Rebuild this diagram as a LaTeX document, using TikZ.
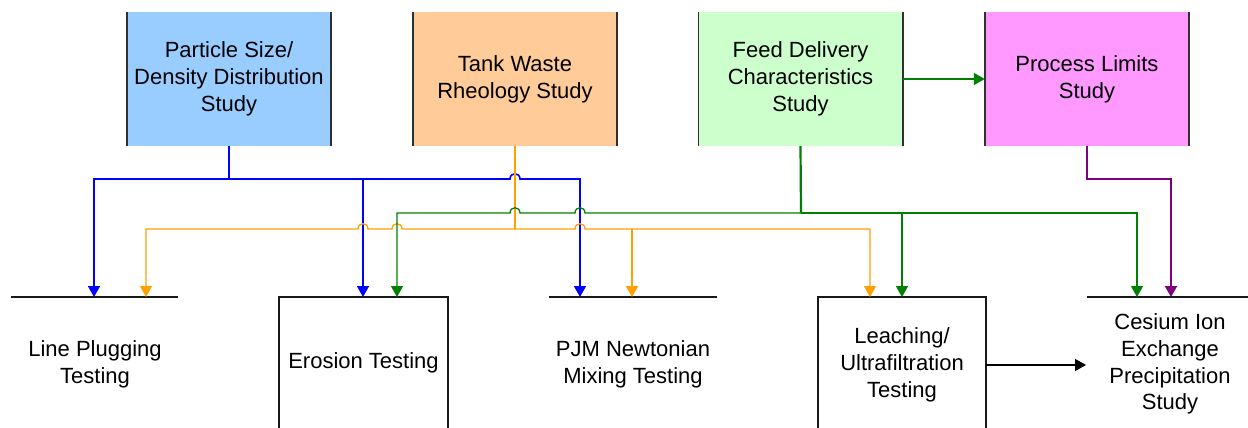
\documentclass[tikz,border=0pt]{standalone}
\usepackage{fontspec}
\setmainfont{Liberation Sans}
\usetikzlibrary{arrows.meta}

\definecolor{fillblue}{HTML}{99CCFF}
\definecolor{fillorange}{HTML}{FFCC99}
\definecolor{fillgreen}{HTML}{CCFFCC}
\definecolor{fillpink}{HTML}{FF99FF}
\definecolor{lnblue}{HTML}{0000FF}
\definecolor{lnorange}{HTML}{FFA000}
\definecolor{lngreen}{HTML}{008000}
\definecolor{lnpurple}{HTML}{800080}
\definecolor{edgegray}{HTML}{303030}

% small line hops where one connector crosses another
\newcommand\hopR[2]{-- (#1-5,#2) .. controls (#1-5,#2-7) and (#1+5,#2-7) .. (#1+5,#2)}
\newcommand\hopL[2]{-- (#1+5,#2) .. controls (#1+5,#2-7) and (#1-5,#2-7) .. (#1-5,#2)}

\tikzset{
  lbl/.style={align=center, inner sep=0pt, font=\fontsize{22}{26.8}\selectfont},
  topbox/.style={lbl, minimum width=204pt, minimum height=134pt},
  side/.style={draw=edgegray, line width=1.6pt},
  outline/.style={draw=black!90, line width=1.5pt},
  tip/.style={-{Triangle[width=12pt,length=11pt]}},
  bluewire/.style={draw=lnblue, line width=1.6pt},
  orangewire/.style={draw=lnorange, line width=1.3pt},
  orangethick/.style={draw=lnorange, line width=2.2pt},
  greenwire/.style={draw=lngreen, line width=1.3pt},
  greenthick/.style={draw=lngreen, line width=2.2pt},
  purplewire/.style={draw=lnpurple, line width=2pt},
  blackwire/.style={draw=black, line width=1.5pt},
}

\begin{document}
\begin{tikzpicture}[x=1pt, y=-1pt]
\useasboundingbox (0,0) rectangle (1248,428);
\clip (0,0) rectangle (1248,428);
\fill[white] (0,0) rectangle (1248,428);

% ---- study boxes along the top
\node[topbox, fill=fillblue]   (psd)  at (229,79)   {Particle Size/\\Density Distribution\\Study};
\node[topbox, fill=fillorange] (twr)  at (515,79)   {Tank Waste\\Rheology Study};
\node[topbox, fill=fillgreen]  (fdc)  at (800.5,79) {Feed Delivery\\Characteristics\\Study};
\node[topbox, fill=fillpink]   (plim) at (1087,79)  {Process Limits\\Study};
\foreach \b in {psd,twr,fdc,plim}{
  \draw[side] (\b.north west) -- (\b.south west);
  \draw[side] (\b.north east) -- (\b.south east);
}

% ---- testing activities along the bottom
\draw[outline] (11,297) -- (178,297);
\node[lbl] (lp) at (95,364) {Line Plugging\\Testing};

\draw[outline] (279,440) -- (279,297) -- (448,297) -- (448,440);
\node[lbl] (ero) at (363.5,363) {Erosion Testing};

\draw[outline] (549,297) -- (717,297);
\node[lbl] (pjm) at (633,364) {PJM Newtonian\\Mixing Testing};

\draw[outline] (818,440) -- (818,297) -- (986,297) -- (986,440);
\node[lbl] (leach) at (902,365) {Leaching/\\Ultrafiltration\\Testing};

\draw[outline] (1087,297) -- (1248,297);
\node[lbl] (cs) at (1170,364) {Cesium Ion\\Exchange\\Precipitation\\Study};

% ---- connector end points on the activity tops
\coordinate (lpB)  at (94,297);
\coordinate (lpO)  at (146,297);
\coordinate (eroB) at (363,297);
\coordinate (eroG) at (397,297);
\coordinate (pjmB) at (580,297);
\coordinate (pjmO) at (632,297);
\coordinate (leO)  at (870,297);
\coordinate (leG)  at (902,297);
\coordinate (csG)  at (1137,297);
\coordinate (csP)  at (1171,297);
\coordinate (leOut) at (986,365);
\coordinate (csIn)  at (1086,365);

% ---- junctions of the distribution buses
\coordinate (bJ) at (229,179);
\coordinate (oJ) at (515,229);
\coordinate (oK) at (632,229);
\coordinate (gJ) at (801,213);
\coordinate (gK) at (902,213);
\coordinate (pJ) at (1087,179);

% particle size / density study (blue)
\draw[bluewire] (psd.south) -- (bJ);
\draw[bluewire, tip] (bJ) -| (lpB);
\draw[bluewire, tip] (bJ) -| (eroB);
\draw[bluewire, tip] (bJ) \hopR{515}{179} -| (pjmB);

% rheology study (orange)
\draw[orangewire] (twr.south) -- (oJ);
\draw[orangewire, tip] (oJ) \hopL{397}{229} \hopL{363}{229} -| (lpO);
\draw[orangewire, tip] (oJ) \hopR{580}{229} -| (leO);
\draw[orangethick, tip] (oK) -- (pjmO);

% feed delivery study (green)
\draw[greenthick] (fdc.south) -- (gJ);
\draw[greenwire, tip] (gJ) \hopL{580}{213} \hopL{515}{213} -| (eroG);
\draw[greenwire, tip] (gJ) -| (csG);
\draw[greenwire, tip] (gK) -- (leG);
\draw[greenwire, tip] (fdc.east) -- (plim.west);

% process limits study (purple)
\draw[purplewire, tip] (plim.south) -- (pJ) -| (csP);

% leaching feeds the cesium study
\draw[blackwire, tip] (leOut) -- (csIn);
\end{tikzpicture}
\end{document}
